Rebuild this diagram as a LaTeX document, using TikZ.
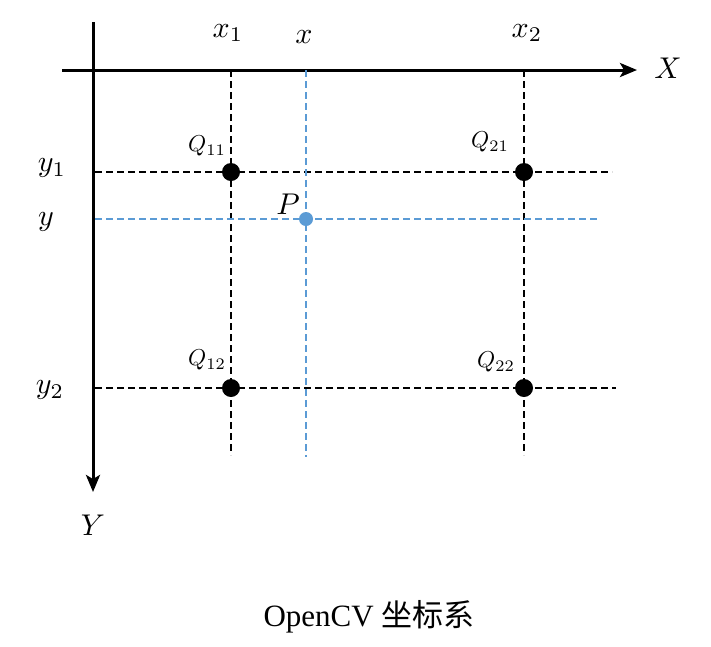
\documentclass[tikz,border=0pt]{standalone}
\usepackage{fontspec}
\setmainfont{Liberation Serif}
\newfontfamily\cjk{Noto Sans CJK SC}
\usetikzlibrary{arrows.meta}
\definecolor{pblue}{RGB}{91,155,213}
\begin{document}
\begin{tikzpicture}[x=1pt,y=-1pt,
    axisline/.style={line width=3pt,-{Stealth[length=17pt,width=14pt,inset=4pt]}},
    gridline/.style={line width=2pt,dash pattern=on 7pt off 4pt},
    blueline/.style={gridline,pblue,line width=1.7pt},
    qdot/.style={circle,fill=black,inner sep=0pt,minimum size=18pt},
    pdot/.style={circle,fill=pblue,inner sep=0pt,minimum size=14pt},
    biglbl/.style={scale=3.0},
    qlbl/.style={scale=2.3}]
  \useasboundingbox (0,0) rectangle (711,646);
  % axes
  \coordinate (xl) at (62,70);
  \coordinate (xr) at (637,70);
  \coordinate (yt) at (93,22);
  \coordinate (yb) at (93,492);
  \draw[axisline] (xl) -- (xr);
  \draw[axisline] (yt) -- (yb);
  \node[biglbl] (X) at (668,68) {$X$};
  \node[biglbl] (Y) at (93,525) {$Y$};
  % line ends
  \coordinate (a1) at (231,70);
  \coordinate (a2) at (524,70);
  \coordinate (ap) at (306,70);
  \coordinate (b1) at (231,455);
  \coordinate (b2) at (524,455);
  \coordinate (bp) at (306,457);
  \coordinate (l1) at (95,172);
  \coordinate (r1) at (612,172);
  \coordinate (lp) at (95,219);
  \coordinate (rp) at (598,219);
  \coordinate (l2) at (95,388);
  \coordinate (r2) at (616,388);
  \begin{scope}[gridline]
    \draw (a1) -- (b1);
    \draw (a2) -- (b2);
    \draw (l1) -- (r1);
    \draw (l2) -- (r2);
  \end{scope}
  \begin{scope}[blueline]
    \draw (ap) -- (bp);
    \draw (lp) -- (rp);
  \end{scope}
  % points
  \node[qdot] (Q11) at (231,172) {};
  \node[qdot] (Q21) at (524,172) {};
  \node[qdot] (Q12) at (231,388) {};
  \node[qdot] (Q22) at (524,388) {};
  \node[pdot] (P) at (306,219) {};
  % labels
  \node[biglbl] (lx1) at (228,33) {$x_1$};
  \node[biglbl] (lx) at (304,37) {$x$};
  \node[biglbl] (lx2) at (527,33) {$x_2$};
  \node[biglbl] (ly1) at (52,168) {$y_1$};
  \node[biglbl] (ly) at (46,222) {$y$};
  \node[biglbl] (ly2) at (50,390) {$y_2$};
  \node[qlbl] (lq11) at (207,146) {$Q_{11}$};
  \node[qlbl] (lq21) at (490,142) {$Q_{21}$};
  \node[qlbl] (lq12) at (207,360) {$Q_{12}$};
  \node[qlbl] (lq22) at (496,362) {$Q_{22}$};
  \node[biglbl] (lp) at (288,204) {$P$};
  \node (cap) at (369,617) {\fontsize{31}{34}\selectfont OpenCV {\cjk 坐标系}};
\end{tikzpicture}
\end{document}
